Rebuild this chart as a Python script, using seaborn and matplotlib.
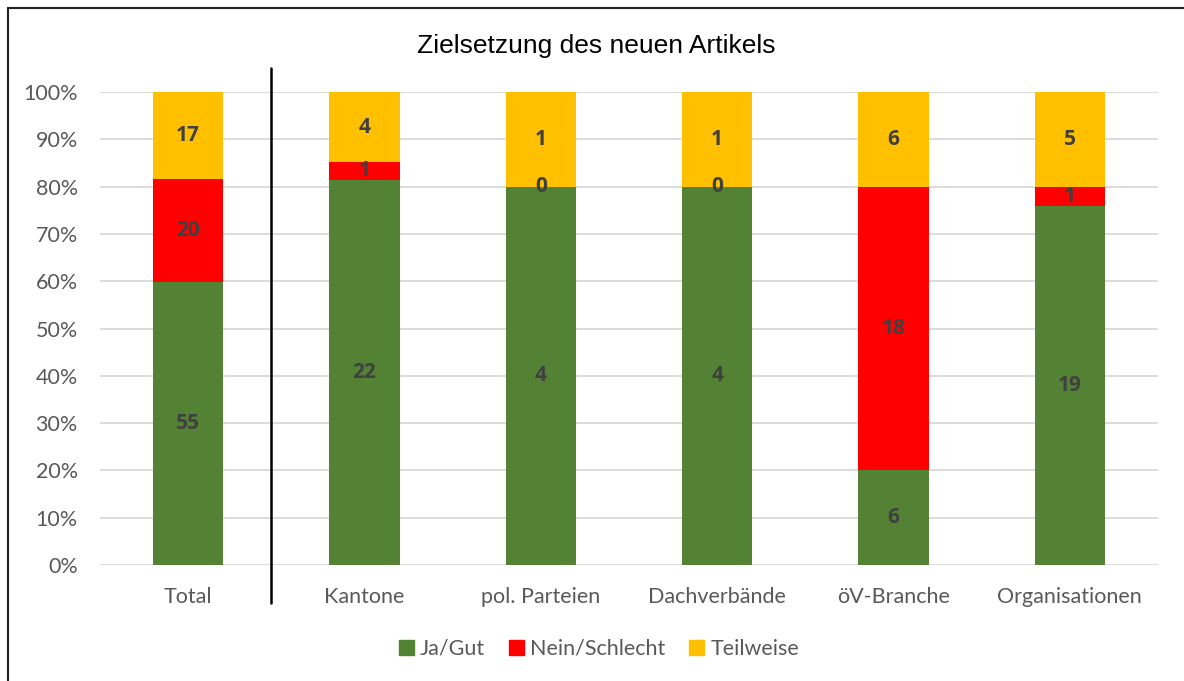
import matplotlib
matplotlib.use("Agg")
import matplotlib.pyplot as plt
import numpy as np
import pandas as pd
import seaborn as sns
from matplotlib.lines import Line2D
from matplotlib.patches import Rectangle
from matplotlib.ticker import PercentFormatter

# data
categories = ["Total", "Kantone", "pol. Parteien", "Dachverbände", "öV-Branche", "Organisationen"]
ja_gut = [55, 22, 4, 4, 6, 19]
nein_schlecht = [20, 1, 0, 0, 18, 1]
teilweise = [17, 4, 1, 1, 6, 5]
series_names = ["Ja/Gut", "Nein/Schlecht", "Teilweise"]
colors = ["#548235", "#FF0000", "#FFC000"]

df = pd.DataFrame({"cat": categories, "Ja/Gut": ja_gut,
                   "Nein/Schlecht": nein_schlecht, "Teilweise": teilweise})
total = df[series_names].sum(axis=1)

sns.set_theme(style="white")
plt.rcParams['font.family'] = ['Lato', 'DejaVu Sans']

fig = plt.figure(figsize=(11.84, 6.81), dpi=100)
ax = fig.add_axes([0.0845, 0.1703, 0.8935, 0.6946])

bottom = np.zeros(len(df))
for name, col in zip(series_names, colors):
    pct = (df[name] / total * 100).values
    sns.barplot(x=df["cat"], y=pct, color=col, width=0.4, bottom=bottom,
                ax=ax, saturation=1, linewidth=0)
    # value labels
    for i, (v, p) in enumerate(zip(df[name].values, pct)):
        ax.text(i, bottom[i] + p / 2, str(v), ha="center", va="center",
                fontsize=15, fontweight="bold", family="Open Sans", color="#404040")
    bottom = bottom + pct

if ax.get_legend() is not None:
    ax.get_legend().remove()

ax.set_xlim(-0.5, 5.5)
ax.set_ylim(0, 100)
ax.set_yticks(np.arange(0, 101, 10))
ax.yaxis.set_major_formatter(PercentFormatter(decimals=0))
ax.grid(axis="y", color="#d9d9d9", linewidth=1.3)
ax.set_axisbelow(True)
for s in ax.spines.values():
    s.set_visible(False)
ax.tick_params(axis="both", length=0, labelsize=15.5, labelcolor="#595959")
ax.tick_params(axis="x", pad=16)
ax.tick_params(axis="y", pad=16)
ax.set_xlabel("")
ax.set_ylabel("")

# divider between Total and the groups (hand-drawn line in the original)
ax.plot([0.47, 0.47], [-8, 105], color="black", linewidth=1.8, clip_on=False)

fig.text(0.504, 0.933, "Zielsetzung des neuen Artikels", ha="center", va="center",
         fontsize=19, family="Liberation Sans", color="black")

handles = [Rectangle((0, 0), 1, 1, color=c) for c in colors]
fig.legend(handles, series_names, loc="center", bbox_to_anchor=(0.506, 0.047),
           ncol=3, frameon=False, fontsize=15.5, labelcolor="#595959",
           handlelength=0.7, handleheight=0.7, handletextpad=0.3, columnspacing=1.1)

# outer chart border: only top and left edges are inside the screenshot
x0 = 8 / 1184
y0 = 1 - 8 / 681
fig.lines.append(Line2D([x0, 1.0], [y0, y0], transform=fig.transFigure,
                        color="#222222", linewidth=1.5))
fig.lines.append(Line2D([x0, x0], [0.0, y0], transform=fig.transFigure,
                        color="#222222", linewidth=1.5))

fig.savefig("out.png", dpi=100)
